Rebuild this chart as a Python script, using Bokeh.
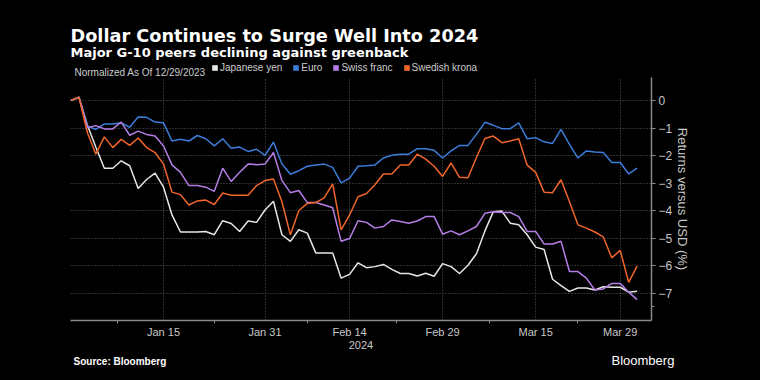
import pandas as pd
from bokeh.plotting import figure
from bokeh.models import (Range1d, FixedTicker, Label, Legend, LegendItem, Plot,
                          ColumnDataSource, Quad)
from bokeh.embed import file_html
from bokeh.resources import INLINE

# ---- data (trading days from 12/29/2023) ----
dates = pd.bdate_range("2023-12-29", "2024-04-02")

yen = [0, 0.12, -0.9, -1.7, -2.46, -2.46, -2.19, -2.37, -3.2, -2.87, -2.64, -3.15, -4.16, -4.78,
       -4.78, -4.78, -4.76, -4.88, -4.37, -4.47, -4.76, -4.38, -4.43, -3.98, -3.66, -4.88, -5.12,
       -4.7, -4.82, -5.54, -5.54, -5.54, -6.46, -6.32, -5.9, -6.08, -6.04, -5.96, -6.14, -6.29,
       -6.29, -6.38, -6.28, -6.39, -5.93, -6.04, -6.29, -5.99, -5.57, -4.74, -4.04, -4.02, -4.46,
       -4.52, -4.88, -5.33, -5.42, -6.5, -6.73, -6.94, -6.82, -6.82, -6.89, -6.77, -6.79, -6.79,
       -6.97, -6.94]
euro = [0, 0.12, -0.93, -1.05, -0.85, -0.85, -0.81, -0.97, -0.6, -0.61, -0.78, -0.81, -1.47, -1.41,
        -1.47, -1.27, -1.39, -1.65, -1.39, -1.73, -1.69, -1.85, -1.77, -1.99, -1.51, -2.31, -2.68,
        -2.55, -2.39, -2.34, -2.31, -2.43, -2.99, -2.82, -2.39, -2.37, -2.34, -2.09, -1.99, -1.95,
        -1.95, -1.75, -1.75, -1.81, -2.09, -1.83, -1.63, -1.63, -1.23, -0.79, -0.9, -1.02, -1.02,
        -0.81, -1.39, -1.35, -1.5, -1.56, -1.05, -1.59, -2.09, -1.83, -1.87, -1.89, -2.25, -2.25,
        -2.67, -2.46]
chf = [0, 0.12, -0.99, -0.91, -1.03, -1.03, -0.78, -1.26, -1.11, -1.23, -1.29, -1.65, -2.34, -2.61,
       -3.09, -3.09, -3.15, -3.3, -2.46, -2.94, -2.61, -2.31, -2.33, -2.31, -1.89, -2.91, -3.35,
       -3.27, -3.71, -3.71, -3.8, -3.9, -5.12, -5.02, -4.37, -4.43, -4.64, -4.58, -4.34, -4.4,
       -4.46, -4.38, -4.22, -4.22, -4.86, -4.74, -4.88, -4.74, -4.58, -4.1, -4.04, -4.07, -4.07,
       -4.22, -4.76, -4.76, -5.22, -5.22, -5.12, -6.22, -6.22, -6.46, -6.89, -6.85, -6.65, -6.65,
       -6.97, -7.24]
sek = [0, 0.12, -1.17, -1.95, -1.32, -1.71, -1.41, -1.63, -1.36, -1.71, -1.89, -2.31, -3.33, -3.42,
       -3.8, -3.65, -3.62, -3.78, -3.36, -3.44, -3.44, -3.44, -3.09, -2.91, -2.85, -3.68, -4.88,
       -4.0, -3.74, -3.71, -3.54, -3.03, -4.7, -4.16, -3.5, -3.38, -3.06, -2.67, -2.67, -2.34,
       -2.34, -1.95, -2.13, -2.39, -2.76, -2.27, -2.79, -2.81, -2.07, -1.38, -1.29, -1.53, -1.47,
       -1.39, -2.35, -2.61, -3.33, -3.35, -2.88, -3.68, -4.52, -4.64, -4.78, -4.96, -5.72, -5.45,
       -6.61, -6.02]

series_names = ["Japanese yen", "Euro", "Swiss franc", "Swedish krona"]
series_colors = ["#e6e6e6", "#3b7dd8", "#b57ee6", "#f0652a"]

x_tick_pos = [0, 11, 23, 33, 44, 55, 65]
x_tick_labels = ["", "Jan 15", "Jan 31", "Feb 14", "Feb 29", "Mar 15", "Mar 29"]
y_ticks = [0, -1, -2, -3, -4, -5, -6, -7]

FONT = "Liberation Sans"
W = 760


def blank(h):
    return Plot(width=W, height=h, x_range=Range1d(0, W), y_range=Range1d(0, h),
                output_backend="svg", toolbar_location=None,
                background_fill_color="black", border_fill_color="black",
                outline_line_color=None, min_border=0)


# ---- header ----
HH = 77
head = blank(HH)
head.add_layout(Label(x=70, y=HH - 35, text="Dollar Continues to Surge Well Into 2024",
                      text_color="white", text_font="DejaVu Sans", text_font_style="bold",
                      text_font_size="17.7px", text_baseline="alphabetic"))
head.add_layout(Label(x=70, y=HH - 52, text="Major G-10 peers declining against greenback",
                      text_color="white", text_font="DejaVu Sans", text_font_style="bold",
                      text_font_size="13px", text_baseline="alphabetic"))
head.add_layout(Label(x=74, y=HH - 72, text="Normalized As Of 12/29/2023",
                      text_color="#cccccc", text_font=FONT, text_font_size="10px",
                      text_baseline="alphabetic"))
items = []
for name, c in zip(series_names, series_colors):
    # zero-size swatch renderer: only its legend square is shown
    src = ColumnDataSource(dict(left=[0], right=[0], top=[0], bottom=[0]))
    r = head.add_glyph(src, Quad(left="left", right="right", top="top", bottom="bottom",
                                 fill_color=c, line_color=None))
    items.append(LegendItem(label=name, renderers=[r]))
legend = Legend(items=items, orientation="horizontal", location=(211, HH - 73),
                glyph_width=7, glyph_height=7, label_standoff=2, spacing=10,
                padding=0, margin=0, background_fill_alpha=0, border_line_color=None,
                label_text_color="#cccccc", label_text_font=FONT,
                label_text_font_size="10px", label_height=10)
head.add_layout(legend)

# ---- main chart ----
x = list(range(len(dates)))
p = figure(width=W, height=274, x_range=Range1d(0, 68.7), y_range=Range1d(-8, 0.84),
           output_backend="svg", toolbar_location=None, tools="", y_axis_location="right",
           background_fill_color="black", border_fill_color="black", outline_line_color=None,
           min_border_left=70, min_border_right=109, min_border_top=0, min_border_bottom=28)

minor_x = [(a + b) / 2 for a, b in zip(x_tick_pos[:-1], x_tick_pos[1:])]
p.xaxis.ticker = FixedTicker(ticks=x_tick_pos, minor_ticks=minor_x)
p.xaxis.major_label_overrides = {t: l for t, l in zip(x_tick_pos, x_tick_labels)}
p.xaxis.axis_label = "2024"
p.yaxis.ticker = FixedTicker(ticks=y_ticks, minor_ticks=[-7.5])
p.yaxis.axis_label = "Returns versus USD (%)"

for ax in (p.xaxis[0], p.yaxis[0]):
    ax.axis_line_color = "#8a8a8a"
    ax.axis_line_width = 1.5
    ax.major_tick_line_color = "#8a8a8a"
    ax.minor_tick_line_color = "#8a8a8a"
    ax.major_tick_in = 0
    ax.minor_tick_in = 0
    ax.minor_tick_out = 3
    ax.major_label_text_color = "#c8c8c8"
    ax.major_label_text_font = FONT
    ax.major_label_text_font_size = "11px"
    ax.axis_label_text_color = "#c8c8c8"
    ax.axis_label_text_font = FONT
    ax.axis_label_text_font_style = "normal"
p.xaxis.major_tick_out = 0
p.xaxis.major_label_standoff = 2
p.xaxis.axis_label_standoff = 0
p.xaxis.axis_label_text_font_size = "11px"
p.yaxis.major_tick_out = 4
p.yaxis.major_label_standoff = 3
p.yaxis.major_label_text_font_size = "12px"
p.yaxis.axis_label_standoff = 0
p.yaxis.axis_label_text_font_size = "13px"

for g in (p.xgrid[0], p.ygrid[0]):
    g.grid_line_color = "#5a5a5a"
    g.grid_line_dash = "1 2"
    g.grid_line_width = 1
p.xgrid.ticker = FixedTicker(ticks=x_tick_pos)
p.ygrid.ticker = FixedTicker(ticks=y_ticks)

for vals, c in zip([yen, euro, chf, sek], series_colors):
    p.line(x, vals, line_color=c, line_width=1.5)

# ---- footer ----
FH = 380 - 77 - 274
foot = blank(FH)
foot.add_layout(Label(x=73, y=FH - 361 + 351, text="Source: Bloomberg", text_color="white",
                      text_font=FONT, text_font_style="bold", text_font_size="10px",
                      text_baseline="alphabetic"))
foot.add_layout(Label(x=611, y=FH - 360 + 351, text="Bloomberg", text_color="white",
                      text_font=FONT, text_font_size="13px", text_baseline="alphabetic"))

html = file_html([head, p, foot], INLINE)
html = html.replace(
    "</head>",
    "<style>body { background: black; } body > div { display: block; line-height: 0; }</style></head>",
    1)
open("out.html", "w").write(html)
